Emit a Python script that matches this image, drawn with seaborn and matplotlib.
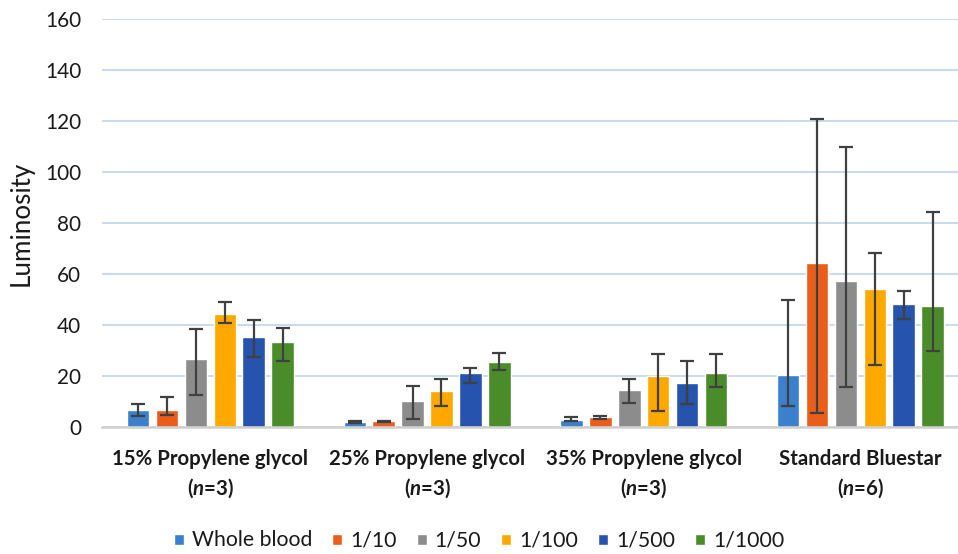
import numpy as np
import pandas as pd
import matplotlib
matplotlib.use('Agg')
import matplotlib.pyplot as plt
import seaborn as sns

# values
groups = ["15% Propylene glycol", "25% Propylene glycol", "35% Propylene glycol", "Standard Bluestar"]
group_n = [3, 3, 3, 6]
dilutions = ["Whole blood", "1/10", "1/50", "1/100", "1/500", "1/1000"]

means = {
    "Whole blood": [6.5, 2.0, 2.7, 20.3],
    "1/10":        [6.7, 2.3, 3.8, 64.4],
    "1/50":        [26.7, 10.2, 14.5, 57.3],
    "1/100":       [44.3, 14.1, 20.0, 54.1],
    "1/500":       [35.3, 21.2, 17.3, 48.2],
    "1/1000":      [33.3, 25.5, 21.2, 47.5],
}
# lower / upper ends of the error bars
err_low = {
    "Whole blood": [4.3, 1.5, 2.2, 8.2],
    "1/10":        [4.7, 2.0, 3.1, 5.6],
    "1/50":        [12.5, 3.1, 9.4, 15.7],
    "1/100":       [40.8, 8.2, 6.3, 24.3],
    "1/500":       [27.5, 17.3, 9.0, 42.4],
    "1/1000":      [25.9, 22.4, 15.7, 29.8],
}
err_high = {
    "Whole blood": [9.0, 2.5, 3.8, 49.8],
    "1/10":        [11.8, 2.5, 4.4, 120.8],
    "1/50":        [38.4, 16.1, 18.8, 109.8],
    "1/100":       [49.0, 18.8, 28.6, 68.2],
    "1/500":       [42.0, 23.1, 25.9, 53.3],
    "1/1000":      [38.8, 29.0, 28.6, 84.3],
}
colors = ["#3a80cc", "#e85e1a", "#8c8c8c", "#ffa800", "#2553ad", "#4b8c2a"]

rows = []
for d in dilutions:
    for i, g in enumerate(groups):
        rows.append({"group": g, "dilution": d, "value": means[d][i]})
df = pd.DataFrame(rows)

sns.set_style("white")
plt.rcParams['font.family'] = ['Lato', 'DejaVu Sans']
plt.rcParams['mathtext.fontset'] = 'custom'
plt.rcParams['mathtext.bfit'] = 'Lato:italic:bold'
plt.rcParams['mathtext.rm'] = 'Lato:bold'

fig = plt.figure(figsize=(9.58, 5.54), dpi=100)
ax = fig.add_axes([0.1065, 0.2292, 0.9047, 0.7365])

sns.barplot(data=df, x="group", y="value", hue="dilution", hue_order=dilutions,
            order=groups, palette=colors, width=0.8, gap=0.22, errorbar=None,
            saturation=1, ax=ax, zorder=2)

# asymmetric error bars on each bar
for d, cont in zip(dilutions, ax.containers):
    xs = [p.get_x() + p.get_width() / 2 for p in cont.patches]
    m = np.array(means[d])
    yerr = [m - np.array(err_low[d]), np.array(err_high[d]) - m]
    ax.errorbar(xs, m, yerr=yerr, fmt="none", ecolor="#404040",
                elinewidth=1.6, capsize=5, capthick=1.6, zorder=3)

ax.set_ylim(0, 160)
ax.set_yticks(range(0, 161, 20))
ax.set_xlim(-0.5, 3.5)
ax.yaxis.grid(True, color="#c5d8ef", linewidth=1.3, zorder=0)
ax.set_axisbelow(True)
for s in ["top", "right", "left"]:
    ax.spines[s].set_visible(False)
ax.spines["bottom"].set_color("#d0d0d0")
ax.spines["bottom"].set_linewidth(1.8)

labels = [f"{g}\n($\\mathbfit{{n}}$={n})" for g, n in zip(groups, group_n)]
ax.set_xticks(range(len(groups)))
ax.set_xticklabels(labels, fontsize=13, fontweight="bold", color="#1a1a1a", linespacing=1.4)
ax.tick_params(axis="x", length=0, pad=16)
ax.tick_params(axis="y", length=0, pad=15, labelsize=13, labelcolor="#1a1a1a")
ax.set_xlabel("")
ax.set_ylabel("Luminosity", fontsize=15, color="#1a1a1a")
ax.yaxis.set_label_coords(-0.079, 0.5)

handles, lbls = ax.get_legend_handles_labels()
ax.get_legend().remove()
leg = fig.legend(handles, lbls, loc="center", bbox_to_anchor=(0.5, 0.025), ncol=6,
                 frameon=False, fontsize=13, handlelength=0.55, handleheight=0.55,
                 handletextpad=0.45, columnspacing=1.1, labelcolor="#1a1a1a")

# scale font sizes so text widths match the reference in pixels
fig.canvas.draw()
xt = ax.get_xticklabels()[0]
xs_size = 13 * 196 / xt.get_window_extent().width
for t in ax.get_xticklabels():
    t.set_fontsize(xs_size)
yt = ax.get_yticklabels()[-1]
ax.tick_params(axis="y", labelsize=13 * 36 / yt.get_window_extent().width)
yl = ax.yaxis.label
yl.set_fontsize(15 * 125 / yl.get_window_extent().height)
lt = leg.get_texts()[0]
lg_size = 13 * 120 / lt.get_window_extent().width
for t in leg.get_texts():
    t.set_fontsize(lg_size)

fig.savefig("out.png", dpi=100)
